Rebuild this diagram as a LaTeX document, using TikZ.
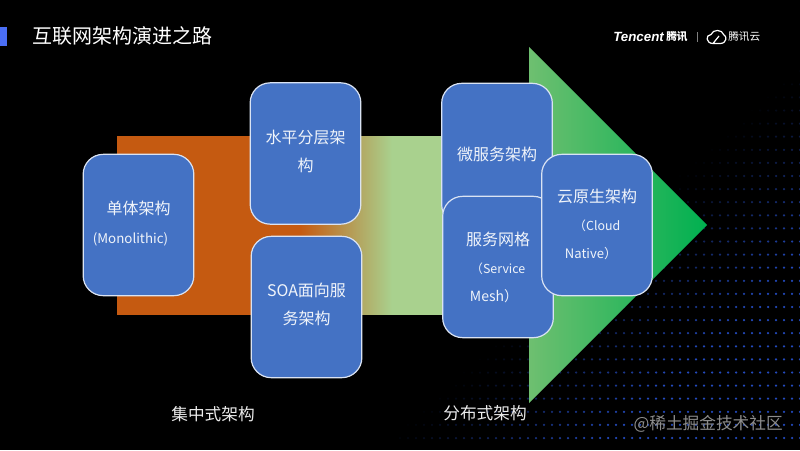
\documentclass[tikz,border=0pt]{standalone}
\usepackage{fontspec}
\setmainfont{Noto Sans CJK SC}[Scale=1]
\newfontfamily\logofont{Liberation Sans}
\definecolor{boxblue}{HTML}{4472C4}
\definecolor{bandorange}{HTML}{C55A11}
\definecolor{bandgreen}{HTML}{A9D18E}
\definecolor{tipgreen}{HTML}{00B050}
\definecolor{headlight}{HTML}{6EBF70}
\definecolor{dotblue}{HTML}{2A58E0}
\definecolor{titlebar}{HTML}{4A6EF5}
\pgfdeclarehorizontalshading{bandshade}{100bp}{color(0bp)=(bandorange); color(52.9bp)=(bandorange); color(66.9bp)=(bandgreen); color(100bp)=(bandgreen)}
\newcommand{\liftup}[1]{\rule[-#1]{0pt}{0pt}}
\tikzset{
  x=0.75pt,y=-0.75pt,
  archbox/.style={draw=white!80!boxblue,line width=0.9pt,fill=boxblue,rounded corners=15pt,minimum width=83pt,minimum height=106pt,inner sep=0pt,outer sep=0pt,text=white!92!boxblue,font=\fontsize{12}{21}\selectfont,align=center},
  caption/.style={text=white!92!black,font=\fontsize{12.5}{15}\selectfont,inner sep=0pt},
}
\begin{document}
\begin{tikzpicture}
\useasboundingbox (0,0) rectangle (800,450);
\fill[black] (0,0) rectangle (800,450);
% dotted background
\foreach \r in {-19,...,10}{
  \foreach \c in {0,...,50}{
    \pgfmathsetmacro{\px}{400+\c*8}
    \pgfmathsetmacro{\py}{307+\r*13.1}
    \pgfmathsetmacro{\t}{max(0,min(1,(\px+1.1*\py-870)/220))}
    \ifdim\t pt>0.01pt
      \pgfmathsetmacro{\op}{0.85*\t}
      \fill[dotblue,opacity=\op] (\px,\py) circle (1.25);
    \fi
  }
}
% band
\shade[shading=bandshade] (117,136) rectangle (445,314);
% arrow head
\shade[left color=headlight,right color=tipgreen] (529,47) -- (707,225) -- (529,403) -- cycle;
% title
\fill[titlebar] (0,27) rectangle (7,46);
\node[anchor=west,inner sep=0pt,text=white,font=\fontsize{15}{18}\selectfont] (title) at (32,36) {互联网架构演进之路};
% logo
\node[anchor=west,inner sep=0pt,text=white,font=\logofont\fontsize{10}{12}\selectfont\bfseries\itshape] (tencent) at (613,37) {Tencent};
\node[anchor=west,inner sep=0pt,text=white,font=\fontsize{8}{10}\selectfont\bfseries\itshape] (tx) at (666,37) {腾讯};
\draw[gray,line width=0.6pt] (697,32) -- (697,42);
\draw[white,line width=0.9pt,line join=round] (713,43.5) .. controls (706,43.5) and (705,35) .. (711,34.5) .. controls (713,29) and (722,29) .. (724,35) .. controls (727,36) and (727,43.5) .. (720,43.5) -- (713,43.5) -- (719,36);
\node[anchor=west,inner sep=0pt,text=white,font=\fontsize{8}{10}\selectfont] (cloudname) at (728,37) {腾讯云};
% boxes
\node[archbox] (mono) at (138.5,225) {单体架构\\[1pt]{\fontsize{10}{12}\selectfont (Monolithic)\hspace*{12pt}}\liftup{4.5pt}};
\node[archbox] (hor) at (305.5,153.5) {水平分层架\\构\liftup{4.5pt}};
\node[archbox] (soa) at (306.5,307) {SOA面向服\\务架构\liftup{4.5pt}};
\node[archbox] (micro) at (497,154) {微服务架构};
\node[archbox] (mesh) at (498,267) {服务网格\\{\fontsize{9.3}{12}\selectfont （Service\hspace*{3pt}}\\{\fontsize{10.5}{12}\selectfont Mesh）\hspace*{6pt}}};
\node[archbox] (cn) at (597,225) {云原生架构\\{\fontsize{9.3}{12}\selectfont （Cloud\hspace*{3pt}}\\{\fontsize{9.8}{12}\selectfont Native）\hspace*{9pt}}\liftup{1.5pt}};
% captions
\node[caption] (c1) at (213,414) {集中式架构};
\node[caption] (c2) at (485,413) {分布式架构};
\node[anchor=east,inner sep=0pt,text=white!55!black,font=\fontsize{12.5}{15}\selectfont] (wm) at (783,424) {@稀土掘金技术社区};
\end{tikzpicture}
\end{document}
